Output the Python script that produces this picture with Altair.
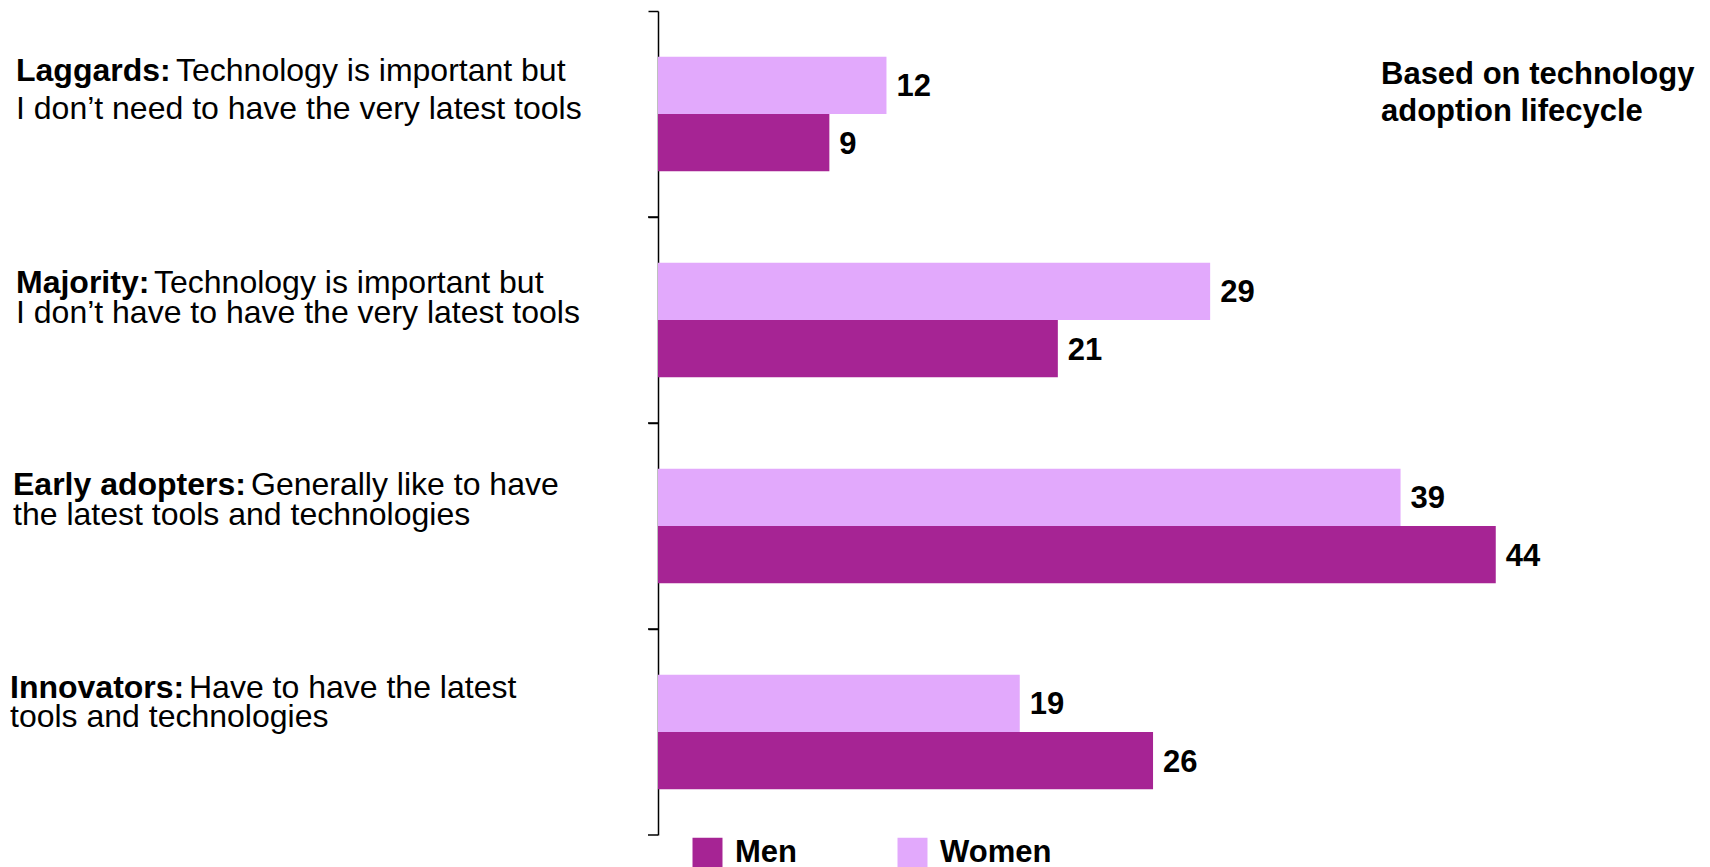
import altair as alt
import pandas as pd

# ---- data ----
categories = ["Laggards", "Majority", "Early adopters", "Innovators"]
women = [12, 29, 39, 19]
men = [9, 21, 44, 26]
series = ["Men", "Women"]
colors = ["#A62494", "#E2A9FC"]
bold_prefix = ["Laggards:", "Majority:", "Early adopters:", "Innovators:"]
line1_rest = [
    "Technology is important but",
    "Technology is important but",
    "Generally like to have",
    "Have to have the latest",
]
line2 = [
    "I don’t need to have the very latest tools",
    "I don’t have to have the very latest tools",
    "the latest tools and technologies",
    "tools and technologies",
]
note = ["Based on technology", "adoption lifecycle"]

rows = []
for i, c in enumerate(categories):
    rows.append({"category": c, "gender": "Women", "value": women[i]})
    rows.append({"category": c, "gender": "Men", "value": men[i]})
df = pd.DataFrame(rows)
df_labels = pd.DataFrame({"category": categories, "prefix": bold_prefix,
                          "rest": line1_rest, "line2": line2})

FONT = "Liberation Sans"

# ---- styles (per-category text placement) ----
label_x = [-642, -642, -645, -648]
prefix_w = [160, 138, 238, 179]
dy1 = [-43, -37, -41, -44]
dy2 = [-5, -7, -11, -15]

y_axis = alt.Axis(labels=False, title=None, ticks=True, tickSize=10, bandPosition=0,
                  domainColor="black", tickColor="black", domainWidth=1.5,
                  tickWidth=1.5, grid=False)
y_scale = alt.Scale(paddingInner=0, paddingOuter=0)
x_enc = alt.X("value:Q", scale=alt.Scale(domain=[0, 50], nice=False, zero=True), axis=None)
yoff_enc = alt.YOffset("gender:N", sort=["Women", "Men"],
                       scale=alt.Scale(paddingInner=0, paddingOuter=0.8))


def yenc(**kw):
    return alt.Y("category:N", sort=categories, scale=y_scale, axis=y_axis, **kw)


bars = alt.Chart(df).mark_bar().encode(
    x=x_enc,
    y=yenc(),
    yOffset=yoff_enc,
    color=alt.Color("gender:N", scale=alt.Scale(domain=series, range=colors),
                    legend=alt.Legend(orient="none", legendX=34, legendY=826,
                                      direction="horizontal", title=None,
                                      symbolType="square", symbolSize=900,
                                      symbolStrokeWidth=0, symbolOpacity=1,
                                      labelFontSize=31, labelFontWeight="bold",
                                      labelFont=FONT, labelColor="black",
                                      labelOffset=12, columnPadding=100, padding=0)),
)

values = alt.Chart(df).mark_text(align="left", baseline="middle", dx=10, dy=2,
                                 font=FONT, fontSize=31, fontWeight="bold",
                                 color="black").encode(
    x=x_enc,
    y=yenc(),
    yOffset=yoff_enc,
    text="value:Q",
)

end_ticks = alt.Chart(df_labels).mark_rule(color="black", strokeWidth=1.5).encode(
    y=yenc(bandPosition=1),
    x=alt.value(-10),
    x2=alt.value(0),
)

layers = [bars, values, end_ticks]

for i, c in enumerate(categories):
    base = alt.Chart(df_labels).transform_filter(alt.datum.category == c)
    layers.append(base.mark_text(align="left", baseline="middle", font=FONT, fontSize=32,
                                 fontWeight="bold", color="black", dy=dy1[i]).encode(
        x=alt.value(label_x[i]), y=yenc(), text="prefix:N"))
    layers.append(base.mark_text(align="left", baseline="middle", font=FONT, fontSize=32,
                                 color="black", dy=dy1[i], dx=prefix_w[i]).encode(
        x=alt.value(label_x[i]), y=yenc(), text="rest:N"))
    layers.append(base.mark_text(align="left", baseline="middle", font=FONT, fontSize=32,
                                 color="black", dy=dy2[i]).encode(
        x=alt.value(label_x[i]), y=yenc(), text="line2:N"))

title_note = alt.Chart(pd.DataFrame({"k": [0]})).mark_text(
    align="left", baseline="middle", font=FONT, fontSize=31, fontWeight="bold",
    color="black", lineHeight=37).encode(
    x=alt.value(723), y=alt.value(64), text=alt.value(note))
layers.append(title_note)

chart = alt.layer(*layers).properties(
    width=952, height=824,
    padding={"left": 650, "top": 3, "right": 92, "bottom": 32},
    autosize=alt.AutoSizeParams(type="none"),
).configure_view(stroke=None)

chart.save("out.html", embed_options={"renderer": "svg", "actions": False})
